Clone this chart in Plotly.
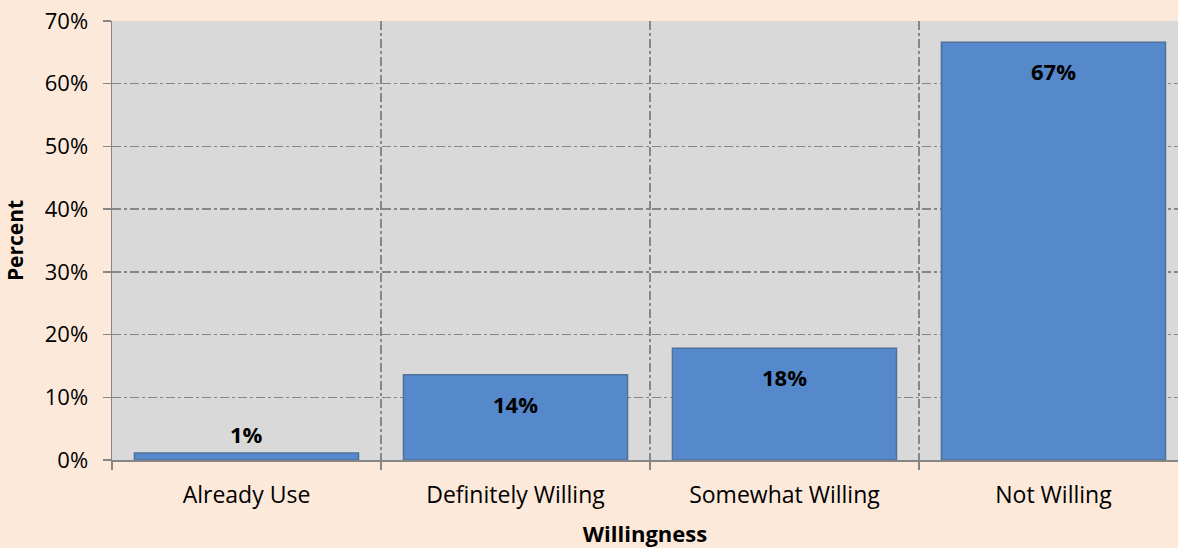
import plotly.graph_objects as go

categories = ["Already Use", "Definitely Willing", "Somewhat Willing", "Not Willing"]
values = [1.1, 13.6, 17.8, 66.6]
labels = ["1%", "14%", "18%", "67%"]
y_ticks = [0, 10, 20, 30, 40, 50, 60, 70]
y_tick_labels = ["0%", "10%", "20%", "30%", "40%", "50%", "60%", "70%"]

FONT = "Open Sans"
AXIS_GRAY = "#868686"

fig = go.Figure()
fig.add_trace(go.Bar(
    x=categories,
    y=values,
    width=0.833,
    marker=dict(color="#5589CB", line=dict(color="#50719A", width=1.5)),
    hoverinfo="skip",
))

annotations = []
for c, v, t in zip(categories, values, labels):
    inside = v > 5
    annotations.append(dict(
        x=c, y=v, xref="x", yref="y", text=f"<b>{t}</b>", showarrow=False,
        yshift=-29 if inside else 19,
        font=dict(family=FONT, size=22, color="#000000"),
    ))

fig.update_layout(
    width=1178, height=548,
    margin=dict(l=112, r=0, t=21, b=88),
    paper_bgcolor="#FDE9D9",
    plot_bgcolor="#D9D9D9",
    showlegend=False,
    font=dict(family=FONT, size=22, color="#000000"),
    annotations=annotations,
)

fig.update_xaxes(
    type="category",
    range=[-0.5, 3.463],
    tickson="boundaries",
    ticks="outside", ticklen=8, tickwidth=1.5, tickcolor=AXIS_GRAY,
    ticklabelstandoff=14,
    showline=True, linecolor=AXIS_GRAY, linewidth=1.5,
    showgrid=True, gridcolor=AXIS_GRAY, gridwidth=1.5, griddash="dashdot",
    tickfont=dict(family=FONT, size=23, color="#000000"),
    title=dict(text="<b>Willingness</b>", font=dict(family=FONT, size=22), standoff=22),
)

fig.update_yaxes(
    range=[0, 70],
    tickvals=y_ticks, ticktext=y_tick_labels,
    ticks="outside", ticklen=8, tickwidth=1.5, tickcolor=AXIS_GRAY,
    ticklabelstandoff=10,
    showline=True, linecolor=AXIS_GRAY, linewidth=1.5,
    showgrid=True, gridcolor=AXIS_GRAY, gridwidth=1.5, griddash="dashdot",
    zeroline=False,
    tickfont=dict(family=FONT, size=22, color="#000000"),
    title=dict(text="<b>Percent</b>", font=dict(family=FONT, size=21), standoff=15),
)

fig.write_html(
    "out.html",
    config={"displayModeBar": False, "staticPlot": True},
    post_script="document.body.style.margin='0';document.body.style.overflow='hidden';",
)
